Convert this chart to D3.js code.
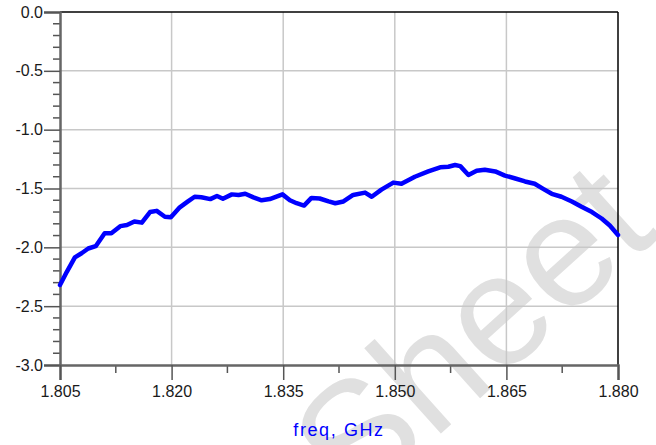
<!DOCTYPE html>
<html>
<head>
<meta charset="utf-8">
<script src="https://cdn.jsdelivr.net/npm/d3@7"></script>
<style>
html,body{margin:0;padding:0;background:#fff;overflow:hidden;}
svg{display:block;}
</style>
</head>
<body>
<svg id="chart" width="656" height="445"></svg>
<script>
const freq = [1.8050,1.8059,1.8070,1.8079,1.8088,1.8098,1.8110,1.8119,1.8131,1.8140,1.8150,1.8160,1.8171,1.8180,1.8191,1.8199,1.8211,1.8222,1.8231,1.8240,1.8252,1.8261,1.8269,1.8281,1.8290,1.8299,1.8310,1.8321,1.8332,1.8349,1.8359,1.8368,1.8378,1.8388,1.8399,1.8411,1.8420,1.8431,1.8444,1.8460,1.8469,1.8482,1.8498,1.8509,1.8527,1.8545,1.8561,1.8572,1.8581,1.8588,1.8599,1.8610,1.8621,1.8635,1.8648,1.8662,1.8675,1.8688,1.8700,1.8711,1.8724,1.8738,1.8751,1.8765,1.8778,1.8789,1.8800];
const gain = [-2.32,-2.21,-2.085,-2.05,-2.01,-1.99,-1.88,-1.88,-1.82,-1.81,-1.78,-1.79,-1.70,-1.69,-1.74,-1.745,-1.66,-1.61,-1.57,-1.575,-1.59,-1.564,-1.587,-1.55,-1.555,-1.545,-1.575,-1.60,-1.59,-1.55,-1.60,-1.625,-1.645,-1.58,-1.585,-1.61,-1.625,-1.61,-1.555,-1.535,-1.57,-1.51,-1.45,-1.46,-1.40,-1.355,-1.32,-1.315,-1.30,-1.31,-1.385,-1.35,-1.34,-1.355,-1.39,-1.415,-1.44,-1.46,-1.505,-1.545,-1.57,-1.61,-1.655,-1.70,-1.755,-1.815,-1.895];
const xTicks = [1.805,1.820,1.835,1.850,1.865,1.880];
const xTickLabels = ["1.805","1.820","1.835","1.850","1.865","1.880"];
const yTicks = [0.0,-0.5,-1.0,-1.5,-2.0,-2.5,-3.0];
const yTickLabels = ["0.0","-0.5","-1.0","-1.5","-2.0","-2.5","-3.0"];
const xLabel = "freq, GHz";
const watermark = "Sheet";

const svg = d3.select("#chart");
const L = 60, R = 618, T = 12, B = 365;
const x = d3.scaleLinear().domain([1.805,1.880]).range([L,R]);
const y = d3.scaleLinear().domain([-3,0]).range([B,T]);

// watermark
svg.append("text")
  .attr("transform","translate(480,342) rotate(-42)")
  .attr("text-anchor","middle")
  .attr("dominant-baseline","middle")
  .attr("font-family","Liberation Sans, Arial, sans-serif")
  .attr("font-size",158)
  .attr("fill","#e0e0e0")
  .text(watermark);

// grid
const g = svg.append("g");
g.selectAll("line.vg").data(xTicks.slice(1,-1)).join("line")
  .attr("x1",d=>x(d)).attr("x2",d=>x(d)).attr("y1",T).attr("y2",B)
  .attr("stroke","#c8c8c8").attr("stroke-width",1.5);
g.selectAll("line.hg").data(yTicks.slice(1,-1)).join("line")
  .attr("y1",d=>y(d)).attr("y2",d=>y(d)).attr("x1",L).attr("x2",R)
  .attr("stroke","#c8c8c8").attr("stroke-width",1.5);

// frame top/right
svg.append("line").attr("x1",L).attr("x2",R).attr("y1",T).attr("y2",T).attr("stroke","#000").attr("stroke-width",1.5);
svg.append("line").attr("x1",R).attr("x2",R).attr("y1",T).attr("y2",B).attr("stroke","#000").attr("stroke-width",1.5);

// minor ticks
const yMinor = d3.range(0,31).map(i=>-i/10).filter(v=>Math.abs(v*2-Math.round(v*2))>1e-6);
svg.append("g").selectAll("line").data(yMinor).join("line")
  .attr("x1",L-7).attr("x2",L).attr("y1",d=>y(d)).attr("y2",d=>y(d))
  .attr("stroke","#555").attr("stroke-width",1.5);
const xMinor = xTicks.slice(0,-1).map(d=>d+0.0075);
svg.append("g").selectAll("line").data(xMinor).join("line")
  .attr("x1",d=>x(d)).attr("x2",d=>x(d)).attr("y1",B).attr("y2",B+8)
  .attr("stroke","#555").attr("stroke-width",1.5);

// axes
const yAxis = d3.axisLeft(y).tickValues(yTicks).tickSize(16).tickPadding(1)
  .tickFormat((d,i)=>yTickLabels[i]);
const ya = svg.append("g").attr("transform",`translate(${L},0)`).call(yAxis);
ya.select(".domain").attr("stroke","#666").attr("stroke-width",2.5);
ya.selectAll(".tick line").attr("stroke","#555").attr("stroke-width",1.5);
ya.selectAll(".tick text").attr("font-family","Liberation Sans, Arial, sans-serif").attr("font-size",16).attr("fill","#1a1a1a");

const xAxis = d3.axisBottom(x).tickValues(xTicks).tickSize(15).tickPadding(6)
  .tickFormat((d,i)=>xTickLabels[i]);
const xa = svg.append("g").attr("transform",`translate(0,${B})`).call(xAxis);
xa.select(".domain").attr("stroke","#666").attr("stroke-width",2.5);
xa.selectAll(".tick line").attr("stroke","#555").attr("stroke-width",1.5);
xa.selectAll(".tick text").attr("font-family","Liberation Sans, Arial, sans-serif").attr("font-size",16).attr("fill","#1a1a1a");

// line
const line = d3.line().x((d,i)=>x(freq[i])).y(d=>y(d));
svg.append("path").datum(gain)
  .attr("d",line).attr("fill","none").attr("stroke","#0000ff")
  .attr("stroke-width",4.5).attr("stroke-linejoin","round").attr("stroke-linecap","round");

// x label
svg.append("text").attr("x",339).attr("y",436).attr("text-anchor","middle")
  .attr("font-family","Liberation Sans, Arial, sans-serif").attr("font-size",18)
  .attr("letter-spacing","1.6px")
  .attr("fill","#0000ff").text(xLabel);
</script>
</body>
</html>
